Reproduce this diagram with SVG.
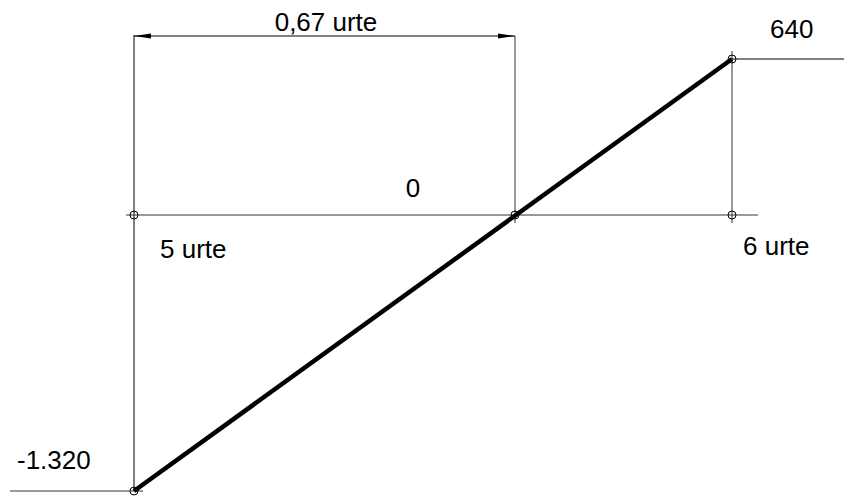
<svg xmlns="http://www.w3.org/2000/svg" width="844" height="498" viewBox="0 0 844 498">
<style>
.t{font-family:"Liberation Sans",Arial,sans-serif;font-size:26px;fill:#000}
.l{stroke:#000;stroke-width:1;fill:none}
.g{stroke:#333;stroke-width:1;fill:none}
.c{stroke:#000;stroke-width:1;fill:none}
</style>
<defs>
<marker id="ah" markerWidth="17" markerHeight="6" refX="17" refY="3" orient="auto-start-reverse" markerUnits="userSpaceOnUse">
<path d="M0,0.5 L17,3 L0,5.5 Z" fill="#000"/>
</marker>
</defs>
<rect width="844" height="498" fill="#fff"/>
<g id="connectors">
<line class="l" x1="134" y1="35" x2="134" y2="491"/>
<line class="g" x1="126" y1="215" x2="758" y2="215"/>
<line class="g" x1="515" y1="36" x2="515" y2="223"/>
<line class="g" x1="732" y1="51" x2="732" y2="223"/>
<line class="l" x1="732" y1="59" x2="844" y2="59"/>
<line class="g" x1="10" y1="491" x2="143" y2="491"/>
<line class="l" x1="134" y1="36" x2="515" y2="36" marker-start="url(#ah)" marker-end="url(#ah)"/>
<line x1="134" y1="491" x2="732" y2="59" stroke="#000" stroke-width="4.5"/>
</g>
<g id="p1"><circle class="c" cx="134" cy="215" r="4"/></g>
<g id="p2"><circle class="c" cx="515" cy="215" r="4"/></g>
<g id="p3"><circle class="c" cx="732" cy="215" r="4"/></g>
<g id="p4"><circle class="c" cx="732" cy="59" r="4"/></g>
<g id="p5"><circle class="c" cx="134" cy="491" r="4"/></g>
<g id="labels">
<text class="t" x="326" y="31" text-anchor="middle">0,67 urte</text>
<text class="t" x="770" y="38">640</text>
<text class="t" x="413" y="197" text-anchor="middle">0</text>
<text class="t" x="160" y="258">5 urte</text>
<text class="t" x="743" y="255">6 urte</text>
<text class="t" x="17" y="469">-1.320</text>
</g>
</svg>
